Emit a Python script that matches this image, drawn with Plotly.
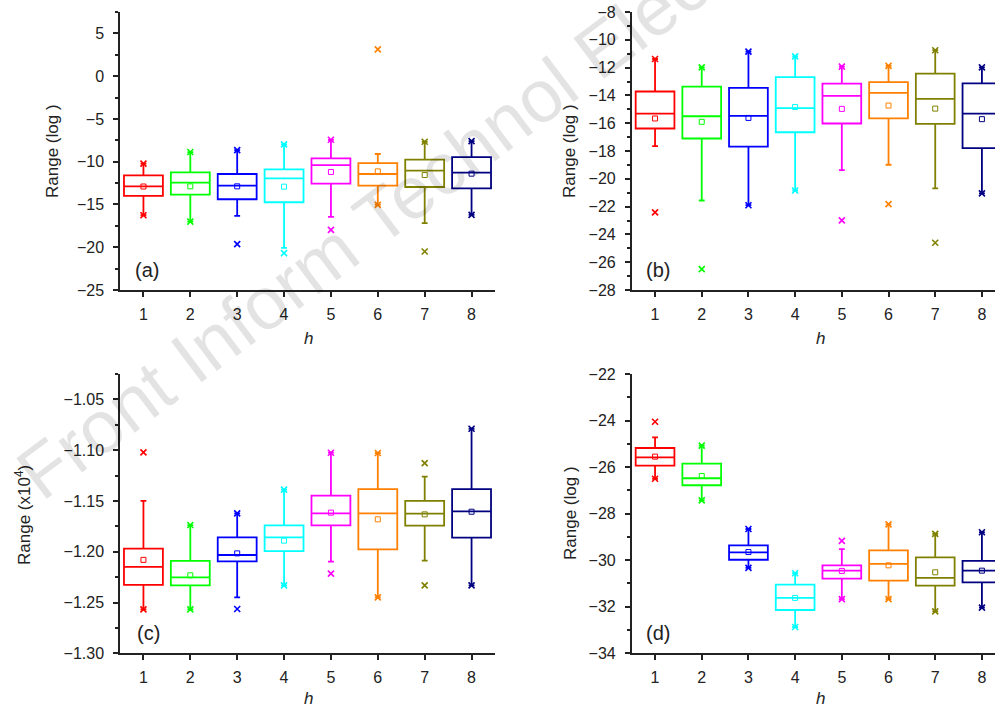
import plotly.graph_objects as go

W, H = 995, 707
h_vals = [1, 2, 3, 4, 5, 6, 7, 8]
colors = ["#FF0000", "#00FF00", "#0000FF", "#00FFFF", "#FF00FF", "#FF8000", "#808000", "#000080"]

# Panel (a)
a_q3 = [-11.6, -11.25, -11.44, -10.9, -9.61, -10.16, -9.77, -9.46]
a_med = [-12.88, -12.45, -12.8, -11.95, -10.39, -11.44, -11.05, -11.28]
a_q1 = [-14.0, -13.85, -14.39, -14.74, -12.57, -12.8, -12.96, -13.11]
a_mean = [-12.9, -12.88, -12.88, -12.92, -11.2, -11.13, -11.56, -11.4]
a_whi = [-10.23, -8.87, -8.64, -7.98, -7.44, -9.1, -7.67, -7.59]
a_wlo = [-16.26, -17.0, -16.34, -20.07, -16.45, -15.05, -17.19, -16.22]
a_max = [-10.23, -8.87, -8.64, -7.98, -7.44, 3.13, -7.67, -7.59]
a_min = [-16.26, -17.0, -19.64, -20.69, -17.97, -15.05, -20.5, -16.22]

# Panel (b)
b_q3 = [-13.72, -13.37, -13.46, -12.69, -13.15, -13.05, -12.43, -13.13]
b_med = [-15.31, -15.5, -15.47, -14.92, -14.04, -13.82, -14.25, -15.31]
b_q1 = [-16.38, -17.1, -17.68, -16.65, -16.02, -15.66, -16.05, -17.8]
b_mean = [-15.66, -15.9, -15.62, -14.83, -14.97, -14.73, -14.95, -15.71]
b_whi = [-11.38, -11.98, -10.85, -11.19, -11.93, -11.88, -10.75, -11.98]
b_wlo = [-17.65, -21.56, -21.9, -20.84, -19.38, -18.99, -20.69, -21.05]
b_max = [-11.38, -11.98, -10.85, -11.19, -11.93, -11.88, -10.75, -11.98]
b_min = [-22.42, -26.5, -21.9, -20.84, -22.99, -21.82, -24.6, -21.05]

# Panel (c)
c_q3 = [-1.197, -1.209, -1.1858, -1.174, -1.1448, -1.1383, -1.150, -1.1383]
c_med = [-1.215, -1.2252, -1.2032, -1.1858, -1.1622, -1.1622, -1.1625, -1.1602]
c_q1 = [-1.2327, -1.2331, -1.2094, -1.1993, -1.174, -1.1976, -1.1743, -1.1862]
c_mean = [-1.208, -1.2232, -1.2016, -1.1891, -1.1615, -1.1681, -1.1632, -1.1606]
c_whi = [-1.150, -1.1737, -1.1622, -1.1389, -1.1025, -1.1028, -1.1261, -1.0789]
c_wlo = [-1.2567, -1.2567, -1.2449, -1.2331, -1.2098, -1.2449, -1.2088, -1.2331]
c_max = [-1.1022, -1.1737, -1.1622, -1.1389, -1.1025, -1.1028, -1.1127, -1.0789]
c_min = [-1.2567, -1.2567, -1.2564, -1.2331, -1.2216, -1.2449, -1.2331, -1.2331]

# Panel (d)
d_q3 = [-25.18, -25.85, -29.36, -31.05, -30.22, -29.58, -29.88, -30.03]
d_med = [-25.58, -26.48, -29.66, -31.62, -30.45, -30.16, -30.76, -30.45]
d_q1 = [-25.94, -26.78, -29.98, -32.14, -30.79, -30.88, -31.09, -30.95]
d_mean = [-25.55, -26.38, -29.65, -31.62, -30.46, -30.22, -30.52, -30.45]
d_whi = [-24.72, -25.08, -28.66, -30.56, -29.52, -28.46, -28.87, -28.8]
d_wlo = [-26.5, -27.43, -30.33, -32.87, -31.67, -31.67, -32.2, -32.04]
d_max = [-24.05, -25.08, -28.66, -30.56, -29.17, -28.46, -28.87, -28.8]
d_min = [-26.5, -27.43, -30.33, -32.87, -31.67, -31.67, -32.2, -32.04]

panels = [
    ("x", "y", a_q1, a_med, a_q3, a_mean, a_wlo, a_whi, a_min, a_max),
    ("x2", "y2", b_q1, b_med, b_q3, b_mean, b_wlo, b_whi, b_min, b_max),
    ("x3", "y3", c_q1, c_med, c_q3, c_mean, c_wlo, c_whi, c_min, c_max),
    ("x4", "y4", d_q1, d_med, d_q3, d_mean, d_wlo, d_whi, d_min, d_max),
]

fig = go.Figure()
for xa, ya, q1, med, q3, mean, wlo, whi, mn, mx in panels:
    for i, hv in enumerate(h_vals):
        fig.add_trace(go.Box(
            x=[hv], q1=[q1[i]], median=[med[i]], q3=[q3[i]],
            lowerfence=[wlo[i]], upperfence=[whi[i]],
            boxpoints=False, width=0.83, whiskerwidth=0.15,
            line=dict(color=colors[i], width=1.8),
            fillcolor="rgba(255,255,255,0)",
            xaxis=xa, yaxis=ya, showlegend=False,
        ))
        fig.add_trace(go.Scatter(
            x=[hv], y=[mean[i]], mode="markers",
            marker=dict(symbol="square-open", size=5, color=colors[i], line=dict(width=1)),
            xaxis=xa, yaxis=ya, showlegend=False,
        ))
        fig.add_trace(go.Scatter(
            x=[hv, hv], y=[mn[i], mx[i]], mode="markers",
            marker=dict(symbol="x-thin", size=6, color=colors[i], line=dict(width=1.6, color=colors[i])),
            xaxis=xa, yaxis=ya, showlegend=False,
        ))

def px_x(p):
    return p / W

def px_y(p):
    return 1 - p / H

font = "Liberation Sans, Arial, sans-serif"
axcol = "#222222"
common = dict(showline=True, linecolor=axcol, linewidth=1.5, ticks="outside",
              ticklen=5, tickwidth=1.5, tickcolor=axcol, showgrid=False, zeroline=False,
              automargin=False,
              tickfont=dict(family=font, size=16, color="#222222"))

left = [px_x(120), px_x(495)]
right = [px_x(631.7), 1.0]
top = [px_y(290), px_y(12)]
bot = [px_y(653.3), px_y(374)]

xcommon = dict(common, tickvals=h_vals, ticklabelstandoff=4)
fig.update_layout(
    xaxis=dict(xcommon, domain=left, range=[0.5, 8.5], anchor="y"),
    xaxis2=dict(xcommon, domain=right, range=[0.5, 8.28], anchor="y2"),
    xaxis3=dict(xcommon, domain=left, range=[0.5, 8.5], anchor="y3"),
    xaxis4=dict(xcommon, domain=right, range=[0.5, 8.28], anchor="y4"),
    yaxis=dict(common, domain=top, range=[-25, 7.5], dtick=5, tick0=0, anchor="x",
               ticklabelstandoff=6,
               minor=dict(ticks="outside", ticklen=3, dtick=2.5, tick0=0, tickcolor=axcol, tickwidth=1.5)),
    yaxis2=dict(common, domain=top, range=[-28, -8], dtick=2, tick0=0, anchor="x2",
                ticklabelstandoff=6,
                minor=dict(ticks="outside", ticklen=3, dtick=1, tick0=0, tickcolor=axcol, tickwidth=1.5)),
    yaxis3=dict(common, domain=bot, range=[-1.30, -1.025], dtick=0.05, tick0=0, anchor="x3",
                tickformat=".2f", ticklabelstandoff=6,
                minor=dict(ticks="outside", ticklen=3, dtick=0.025, tick0=0, tickcolor=axcol, tickwidth=1.5)),
    yaxis4=dict(common, domain=bot, range=[-34, -22], dtick=2, tick0=0, anchor="x4",
                ticklabelstandoff=6,
                minor=dict(ticks="outside", ticklen=3, dtick=1, tick0=0, tickcolor=axcol, tickwidth=1.5)),
    width=W, height=H,
    margin=dict(l=0, r=0, t=0, b=0, pad=0),
    paper_bgcolor="white", plot_bgcolor="white",
    font=dict(family=font, size=16, color="#222222"),
)

ann = []
# axis titles
for xp, yp, txt in [(53, 151, "Range (log )"), (570, 151, "Range (log )"),
                    (23, 515, "Range (x10<sup>4</sup>)"), (570, 513, "Range (log )")]:
    ann.append(dict(x=px_x(xp), y=px_y(yp), xref="paper", yref="paper", text=txt,
                    textangle=-90, showarrow=False, font=dict(family=font, size=17, color="#222222"),
                    xanchor="center", yanchor="middle"))
for xp, yp in [(308, 338), (820, 338), (308, 698), (820, 698)]:
    ann.append(dict(x=px_x(xp), y=px_y(yp), xref="paper", yref="paper", text="<i>h</i>",
                    showarrow=False, font=dict(family=font, size=17, color="#222222"),
                    xanchor="center", yanchor="middle"))
for xp, yp, txt in [(147, 270, "(a)"), (658, 270, "(b)"), (148, 633, "(c)"), (658, 633, "(d)")]:
    ann.append(dict(x=px_x(xp), y=px_y(yp), xref="paper", yref="paper", text=txt,
                    showarrow=False, font=dict(family=font, size=20, color="#222222"),
                    xanchor="center", yanchor="middle"))
# watermark
ann.append(dict(x=px_x(475), y=px_y(145), xref="paper", yref="paper",
                text="Front Inform Technol Electron Eng", textangle=-37, showarrow=False,
                font=dict(family=font, size=74, color="rgba(0,0,0,0.11)"),
                xanchor="center", yanchor="middle"))
fig.update_layout(annotations=ann)

fig.write_html(
    "out.html",
    config={"displayModeBar": False},
    post_script="document.body.style.margin='0';document.body.style.overflow='hidden';",
)
